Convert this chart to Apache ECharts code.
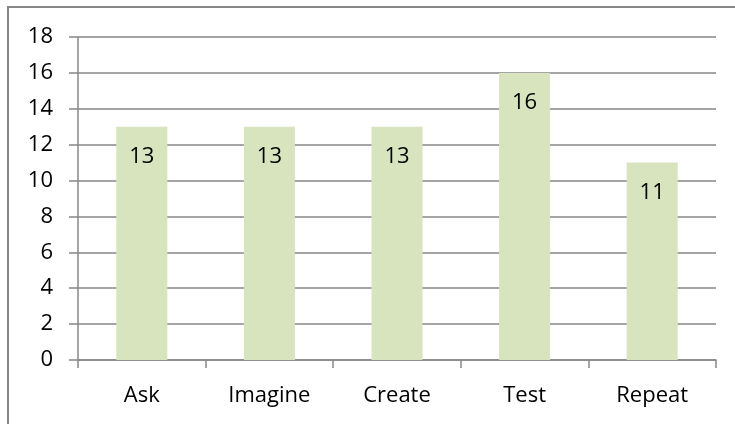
<!DOCTYPE html>
<html>
<head>
<meta charset="utf-8">
<script src="https://cdn.jsdelivr.net/npm/echarts@6/dist/echarts.min.js"></script>
<style>
  html, body { margin: 0; padding: 0; background: #fff; }
  #chart { width: 735px; height: 424px; }
</style>
</head>
<body>
<div id="chart"></div>
<script>
// Steps of the design process and how many times each was recorded
const categories = ['Ask', 'Imagine', 'Create', 'Test', 'Repeat'];
const counts = [13, 13, 13, 16, 11];
const yTicks = { min: 0, max: 18, interval: 2 };

const FONT = '"Open Sans", "Liberation Sans", sans-serif';
const GRAY = '#878787';

const chart = echarts.init(document.getElementById('chart'), null, { renderer: 'canvas' });
chart.setOption({
  animation: false,
  backgroundColor: '#ffffff',
  graphic: [{
    type: 'rect',
    shape: { x: 8, y: 7, width: 800, height: 500 },
    style: { fill: 'none', stroke: GRAY, lineWidth: 2 },
    silent: true
  }],
  grid: { left: 78, right: 19, top: 37, bottom: 64, containLabel: false },
  xAxis: {
    type: 'category',
    data: categories,
    boundaryGap: true,
    axisLine: { show: true, lineStyle: { color: GRAY, width: 1.5 } },
    axisTick: { show: true, length: 8, alignWithLabel: false, lineStyle: { color: GRAY, width: 1.5 } },
    axisLabel: { color: '#000', fontFamily: FONT, fontSize: 22, margin: 25 },
    splitLine: { show: false }
  },
  yAxis: {
    type: 'value',
    min: yTicks.min,
    max: yTicks.max,
    interval: yTicks.interval,
    axisLine: { show: true, lineStyle: { color: GRAY, width: 1.5 } },
    axisTick: { show: true, length: 9, lineStyle: { color: GRAY, width: 1.5 } },
    axisLabel: { color: '#000', fontFamily: FONT, fontSize: 22, margin: 25 },
    splitLine: { show: true, lineStyle: { color: GRAY, width: 1.5 } }
  },
  series: [{
    type: 'bar',
    data: counts,
    barCategoryGap: '60%',
    itemStyle: { color: '#D7E4BD' },
    label: {
      show: true,
      position: 'insideTop',
      distance: 19,
      color: '#000',
      fontFamily: FONT,
      fontSize: 22
    }
  }]
});
</script>
</body>
</html>
